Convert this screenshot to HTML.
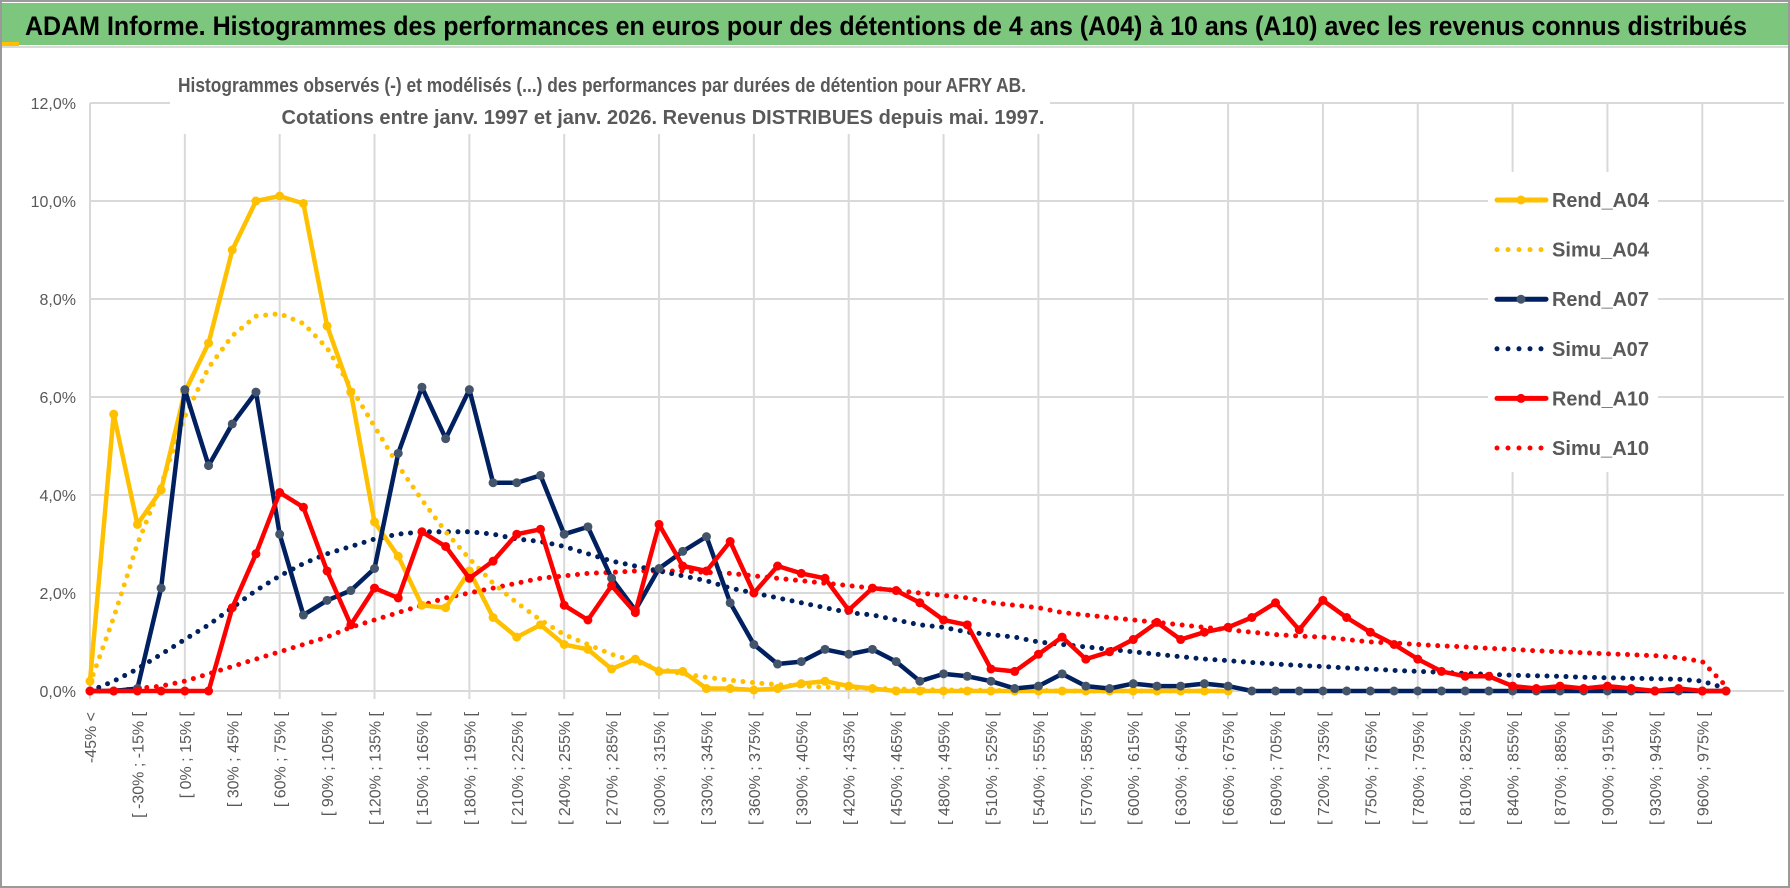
<!DOCTYPE html>
<html><head><meta charset="utf-8"><style>
html,body{margin:0;padding:0;background:#fff;}
svg{display:block;font-family:"Liberation Sans",sans-serif;}
</style></head><body>
<svg id="chart" width="1790" height="888" viewBox="0 0 1790 888">
<rect x="1" y="1" width="1788" height="886" fill="#fff" stroke="#9a9a9a" stroke-width="2"/>
<rect x="2" y="3" width="1786" height="42" fill="#7dc67e"/>
<line x1="2" y1="47" x2="1788" y2="47" stroke="#d9d9d9" stroke-width="2"/>
<rect x="2" y="42" width="17" height="4" fill="#ffc000"/>
<text x="25" y="35" font-size="27" font-weight="bold" fill="#000" textLength="1722" lengthAdjust="spacingAndGlyphs">ADAM Informe. Histogrammes des performances en euros pour des détentions de 4 ans (A04) à 10 ans (A10) avec les revenus connus distribués</text>
<g id="grid"></g>
<g id="yaxis"></g>
<g id="xaxis"></g>
<rect x="170" y="66" width="880" height="68" fill="#fff"/>
<text x="602" y="92" font-size="20" font-weight="bold" fill="#595959" text-anchor="middle" textLength="848" lengthAdjust="spacingAndGlyphs">Histogrammes observés (-) et modélisés (...) des performances par durées de détention pour AFRY AB.</text>
<text x="663" y="124" font-size="20" font-weight="bold" fill="#595959" text-anchor="middle" textLength="763" lengthAdjust="spacingAndGlyphs">Cotations entre janv. 1997 et janv. 2026. Revenus DISTRIBUES depuis mai. 1997.</text>
<g id="series"></g>
<g id="legend"></g>
</svg>
<script>
const categories = [];
categories.push('-45% <');
for (let lo = -45; lo <= 960; lo += 15) categories.push('[ ' + lo + '% ; ' + (lo + 15) + '% [');
categories.push('975% >');
const yTicks = [0, 2, 4, 6, 8, 10, 12];
const yTickLabels = ['0,0%', '2,0%', '4,0%', '6,0%', '8,0%', '10,0%', '12,0%'];
const rendA04 = [0.2,5.65,3.4,4.1,6.1,7.1,9.0,10.0,10.1,9.95,7.45,6.1,3.45,2.75,1.75,1.7,2.45,1.5,1.1,1.35,0.95,0.85,0.45,0.65,0.4,0.4,0.05,0.05,0.02,0.05,0.15,0.2,0.1,0.05,0,0,0,0,0,0,0,0,0,0,0,0,0,0,0,null,null,null,null,null,null,null,null,null,null,null,null,null,null,null,null,null,null,null,null,null];
const simuA04 = [0.15,1.5,3.0,4.2,5.6,6.6,7.25,7.65,7.7,7.5,7.0,6.2,5.4,4.6,3.9,3.25,2.7,2.2,1.8,1.45,1.15,0.95,0.75,0.6,0.45,0.35,0.28,0.22,0.17,0.13,0.1,0.08,0.06,0.05,0.04,0.03,0.02,0.02,0.01,0.01,0.01,0,0,0,0,0,0,0,0,null,null,null,null,null,null,null,null,null,null,null,null,null,null,null,null,null,null,null,null,null];
const rendA07 = [0,0,0.05,2.1,6.15,4.6,5.45,6.1,3.2,1.55,1.85,2.05,2.5,4.85,6.2,5.15,6.15,4.25,4.25,4.4,3.2,3.35,2.3,1.65,2.5,2.85,3.15,1.8,0.95,0.55,0.6,0.85,0.75,0.85,0.6,0.2,0.35,0.3,0.2,0.05,0.1,0.35,0.1,0.05,0.15,0.1,0.1,0.15,0.1,0,0,0,0,0,0,0,0,0,0,0,0,0,0,0,0,0,0,0,0,0];
const simuA07 = [0,0.2,0.45,0.75,1.05,1.35,1.7,2.05,2.35,2.6,2.8,2.95,3.1,3.2,3.25,3.25,3.25,3.2,3.1,3.05,2.95,2.8,2.65,2.55,2.45,2.35,2.25,2.1,2.0,1.9,1.8,1.7,1.6,1.55,1.45,1.35,1.3,1.2,1.15,1.1,1.0,0.95,0.9,0.85,0.8,0.75,0.7,0.65,0.62,0.58,0.55,0.52,0.5,0.47,0.45,0.42,0.4,0.38,0.36,0.34,0.32,0.31,0.3,0.28,0.27,0.26,0.25,0.24,0.2,0.05];
const rendA10 = [0,0,0,0,0,0,1.7,2.8,4.05,3.75,2.45,1.35,2.1,1.9,3.25,2.95,2.3,2.65,3.2,3.3,1.75,1.45,2.15,1.6,3.4,2.55,2.45,3.05,2.0,2.55,2.4,2.3,1.65,2.1,2.05,1.8,1.45,1.35,0.45,0.4,0.75,1.1,0.65,0.8,1.05,1.4,1.05,1.2,1.3,1.5,1.8,1.25,1.85,1.5,1.2,0.95,0.65,0.4,0.3,0.3,0.1,0.05,0.1,0.05,0.1,0.05,0.0,0.05,0.0,0.0];
const simuA10 = [0,0,0.05,0.1,0.2,0.35,0.5,0.65,0.8,0.95,1.1,1.3,1.45,1.6,1.75,1.9,2.0,2.1,2.2,2.3,2.35,2.4,2.42,2.45,2.45,2.45,2.42,2.4,2.35,2.3,2.25,2.2,2.15,2.1,2.05,2.0,1.95,1.9,1.8,1.75,1.7,1.6,1.55,1.5,1.45,1.4,1.35,1.3,1.25,1.2,1.15,1.12,1.1,1.05,1.0,0.98,0.95,0.92,0.9,0.87,0.85,0.82,0.8,0.78,0.76,0.74,0.72,0.68,0.6,0.1];

const NS = 'http://www.w3.org/2000/svg';
const X0 = 90, X1 = 1726, Y0 = 691, Y12 = 103;
const n = categories.length;
function xs(i){ return X0 + i * (X1 - X0) / (n - 1); }
function ys(v){ return Y0 - v * (Y0 - Y12) / 12; }
function mk(tag, attrs, parent){ const e = document.createElementNS(NS, tag); for (const k in attrs) e.setAttribute(k, attrs[k]); parent.appendChild(e); return e; }

const grid = document.getElementById('grid');
yTicks.forEach((t) => {
  const l = mk('line', {x1: X0, x2: 1784, y1: ys(t), y2: ys(t), stroke: '#d9d9d9', 'stroke-width': 2}, grid);
  
  
});
for (let i = 0; i < n; i += 4) {
  const l = mk('line', {x1: xs(i), x2: xs(i), y1: Y12, y2: Y0 + 8, stroke: '#d9d9d9', 'stroke-width': 2}, grid);
  
  
}
const yaxis = document.getElementById('yaxis');
yTicks.forEach((t, k) => {
  const tx = mk('text', {x: 76, y: ys(t) + 6, 'text-anchor': 'end', 'font-size': 16, fill: '#595959'}, yaxis);
  tx.textContent = yTickLabels[k];
  
  
});
const xaxis = document.getElementById('xaxis');
categories.forEach((c, i) => {
  if (i % 2) return;
  const x = xs(i) + 6, y = 712;
  const tx = mk('text', {x: x, y: y, 'text-anchor': 'end', 'font-size': 16, fill: '#595959', transform: 'rotate(-90 ' + x + ' ' + y + ')'}, xaxis);
  tx.textContent = c;
  
  
});

const series = document.getElementById('series');
function pathFor(vals){
  let d = '', pen = false;
  vals.forEach((v, i) => { if (v === null) { pen = false; return; } d += (pen ? 'L' : 'M') + xs(i).toFixed(1) + ' ' + ys(v).toFixed(1); pen = true; });
  return d;
}
function dotted(vals, color, name){
  const p = mk('path', {d: pathFor(vals), fill: 'none', stroke: color, 'stroke-width': 5, 'stroke-linecap': 'round', 'stroke-dasharray': '0 9.5'}, series);
  
  
}
function solid(vals, color, mcolor, name){
  const g = mk('g', {}, series);
  
  
  mk('path', {d: pathFor(vals), fill: 'none', stroke: color, 'stroke-width': 4.5, 'stroke-linejoin': 'round'}, g);
  vals.forEach((v, i) => {
    if (v === null) return;
    const c = mk('circle', {cx: xs(i), cy: ys(v), r: 4.5, fill: mcolor}, g);
    
    
  });
}
dotted(simuA10, '#ff0000', 'simu-a10-line');
dotted(simuA07, '#002060', 'simu-a07-line');
dotted(simuA04, '#ffc000', 'simu-a04-line');
solid(rendA04, '#ffc000', '#ffc000', 'rend-a04-line');
solid(rendA07, '#002060', '#44546a', 'rend-a07-line');
solid(rendA10, '#ff0000', '#ff0000', 'rend-a10-line');

const legend = document.getElementById('legend');
mk('rect', {x: 1488, y: 172, width: 170, height: 300, fill: '#fff'}, legend);
const leg = [['Rend_A04','#ffc000','#ffc000',false],['Simu_A04','#ffc000','',true],['Rend_A07','#002060','#44546a',false],['Simu_A07','#002060','',true],['Rend_A10','#ff0000','#ff0000',false],['Simu_A10','#ff0000','',true]];
leg.forEach((e, k) => {
  const y = 200 + k * 49.6;
  const g = mk('g', {}, legend);
  
  
  if (e[3]) {
    mk('line', {x1: 1497, x2: 1546, y1: y, y2: y, stroke: e[1], 'stroke-width': 5, 'stroke-linecap': 'round', 'stroke-dasharray': '0 11'}, g);
  } else {
    mk('line', {x1: 1497, x2: 1546, y1: y, y2: y, stroke: e[1], 'stroke-width': 5, 'stroke-linecap': 'round'}, g);
    mk('circle', {cx: 1521, cy: y, r: 4.5, fill: e[2]}, g);
  }
  const t = mk('text', {x: 1552, y: y + 7, 'font-size': 20, 'font-weight': 'bold', fill: '#595959', textLength: 97, lengthAdjust: 'spacingAndGlyphs'}, g);
  t.textContent = e[0];
});
</script>
</body></html>
